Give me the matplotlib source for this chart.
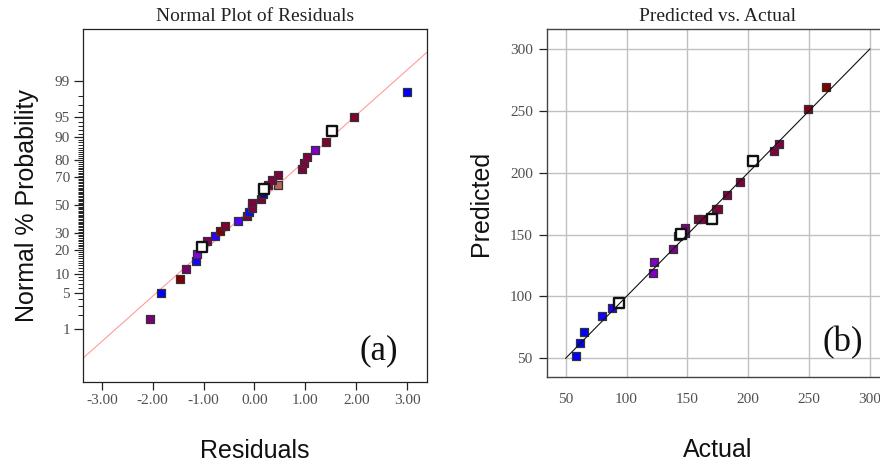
import matplotlib
matplotlib.use("Agg")
import matplotlib.pyplot as plt
from statistics import NormalDist

# ---------------- data ----------------
# (a) Normal plot of residuals
residuals = [-2.06, -1.83, -1.46, -1.34, -1.14, -1.12, -1.03, -0.94, -0.77, -0.67,
             -0.58, -0.32, -0.15, -0.10, -0.05, -0.05, 0.135, 0.17, 0.19, 0.27,
             0.47, 0.34, 0.47, 0.93, 0.98, 1.04, 1.19, 1.40, 1.52, 1.96, 3.00]
prob_pct = [1.67, 5.0, 8.3, 11.7, 15.0, 18.3, 21.7, 25.0, 28.3, 31.7,
            35.0, 38.3, 41.7, 45.0, 48.3, 51.7, 55.0, 58.3, 61.7, 65.0,
            65.0, 68.3, 71.7, 75.0, 78.3, 81.7, 85.0, 88.3, 91.7, 95.0, 98.3]
res_colors = ['#7a0078', '#0000ff', '#800000', '#7a0070', '#1a00ff', '#8a00d8', 'white',
              '#80005a', '#3000ff', '#80000c', '#800030', '#5200ff', '#800040', '#0010ff',
              '#800040', '#800040', '#800040', '#10107a', 'white', '#800040',
              '#c0605c', '#800040', '#800040', '#800040', '#800040', '#800040',
              '#8000c8', '#800030', 'white', '#800030', '#0000ff']
prob_ticks = [1, 5, 10, 20, 30, 50, 70, 80, 90, 95, 99]
res_ticks = [-3.0, -2.0, -1.0, 0.0, 1.0, 2.0, 3.0]
fit_center = 0.01   # residual at 50 %
fit_scale = 1.18    # residual units per z unit

# (b) Predicted vs actual
actual = [58.2, 61.8, 65.3, 79.6, 87.7, 93.8, 122.0, 122.6, 138.4, 142.0, 145.0,
          148.0, 148.0, 158.5, 162.2, 170.0, 173.5, 175.5, 182.3, 193.2, 204.2,
          221.4, 225.3, 248.8, 264.1]
predicted = [51.8, 62.6, 71.0, 84.2, 90.4, 94.4, 119.2, 128.0, 138.1, 148.5, 150.8,
             151.0, 155.5, 162.3, 162.3, 162.3, 170.4, 170.4, 182.0, 192.7, 209.7,
             217.5, 223.2, 251.5, 269.0]
pred_colors = ['#0000ff', '#0000ff', '#0000ff', '#1000ff', '#2000ff', 'white',
               '#8000c0', '#8000c0', '#800090', '#8000a0', 'white', '#8000a0',
               '#800080', '#800040', '#800040', 'white', '#800040', '#800040',
               '#800040', '#800040', 'white', '#800040', '#800040', '#800018', '#800000']
pv_ticks = [50, 100, 150, 200, 250, 300]
diag_range = [50, 300]

# ---------------- figure ----------------
SERIF = ['Liberation Serif', 'DejaVu Serif']
SANS = ['Liberation Sans', 'DejaVu Sans']
TICKC = '#505050'
TICKFS = 11
TITLEFS = 14
LABFS = 18

fig = plt.figure(figsize=(8.8, 4.65), dpi=100)
nd = NormalDist()

def z(p):
    return nd.inv_cdf(p / 100.0)

def draw_points(ax, xs, ys, cols):
    for xv, yv, c in zip(xs, ys, cols):
        if c == 'white':
            ax.scatter([xv], [yv], s=52, marker='s', facecolor='white', edgecolor='#111111',
                       linewidths=1.7, zorder=4)
        else:
            ax.scatter([xv], [yv], s=34, marker='s', facecolor=c, edgecolor='#333333',
                       linewidths=0.9, zorder=3)

# ----- (a) -----
axa = fig.add_axes([83/880, 1-382/465, 344/880, 353/465])
zy = [z(p) for p in prob_pct]
xlim_a = (-3.37, 3.39)
axa.set_xlim(*xlim_a)
axa.set_ylim(-3.31, 3.30)
lx = list(xlim_a)
ly = [(v - fit_center) / fit_scale for v in lx]
axa.plot(lx, ly, color='#ff9c9c', lw=0.8, zorder=2)
draw_points(axa, residuals, zy, res_colors)
axa.set_yticks([z(p) for p in prob_ticks])
axa.set_yticklabels([str(p) for p in prob_ticks])
axa.set_yticks([z(p) for p in range(1, 100) if p not in prob_ticks], minor=True)
axa.set_xticks(res_ticks)
axa.set_xticklabels(['%.2f' % v for v in res_ticks])
axa.tick_params(axis='y', which='major', length=6.5, width=0.9, color='#222222', direction='out')
axa.tick_params(axis='y', which='minor', length=3.5, width=0.7, color='#222222', direction='out')
axa.tick_params(axis='x', which='major', length=5.5, width=0.9, color='#222222', direction='out')
axa.tick_params(axis='both', labelsize=TICKFS, labelcolor=TICKC, pad=3)
for lab in axa.get_xticklabels() + axa.get_yticklabels():
    lab.set_fontfamily(SERIF)
for sp in axa.spines.values():
    sp.set_color('#222222')
    sp.set_linewidth(0.9)
axa.set_title('Normal Plot of Residuals', fontfamily=SERIF, fontsize=TITLEFS, color='#222222', pad=6)
axa.set_ylabel('Normal % Probability', fontfamily=SANS, fontsize=LABFS, color='#111111', labelpad=11)
axa.set_xlabel('Residuals', fontfamily=SANS, fontsize=LABFS, color='#111111', labelpad=23)
axa.text(0.86, 0.088, '(a)', transform=axa.transAxes, ha='center', va='center',
         fontfamily=SERIF, fontsize=25, color='#111111')

# ----- (b) -----
axb = fig.add_axes([546.7/880, 1-377.3/465, 342.2/880, 348/465])
axb.set_xlim(34.4, 315.6)
axb.set_ylim(34.6, 315.9)
axb.grid(True, color='#c0c0c0', lw=1.0)
axb.set_axisbelow(True)
axb.plot(diag_range, diag_range, color='#111111', lw=0.8, zorder=5)
draw_points(axb, actual, predicted, pred_colors)
axb.set_xticks(pv_ticks)
axb.set_yticks(pv_ticks)
axb.tick_params(axis='y', length=6, width=0.9, color='#222222', direction='out')
axb.tick_params(axis='x', length=0)
axb.tick_params(axis='both', labelsize=TICKFS, labelcolor=TICKC, pad=4)
axb.tick_params(axis='x', pad=11)
for lab in axb.get_xticklabels() + axb.get_yticklabels():
    lab.set_fontfamily(SERIF)
for name, sp in axb.spines.items():
    sp.set_color('#444444')
    sp.set_linewidth(1.0)
axb.set_title('Predicted vs. Actual', fontfamily=SERIF, fontsize=TITLEFS, color='#222222', pad=6)
axb.set_ylabel('Predicted', fontfamily=SANS, fontsize=LABFS, color='#111111', labelpad=12)
axb.set_xlabel('Actual', fontfamily=SANS, fontsize=LABFS, color='#111111', labelpad=23)
axb.text(0.866, 0.1, '(b)', transform=axb.transAxes, ha='center', va='center',
         fontfamily=SERIF, fontsize=25, color='#111111')

fig.savefig('out.png', dpi=100)
